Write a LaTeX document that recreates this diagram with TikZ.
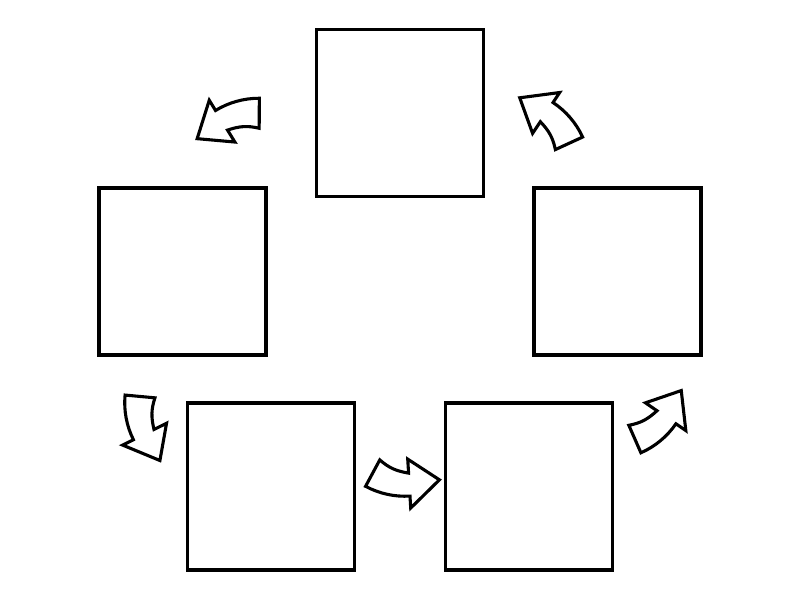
\documentclass[tikz,border=0pt]{standalone}
\usepackage{tikz}
\def\cyclearrow{\tikz[x=0.25mm,y=0.25mm]{
	\draw[line width=2.2pt,fill=white] (241.7:83) arc[start angle=241.7,end angle=273.5,radius=83]--(273.5:95)--(297.4:75)--(273.5:46)--(273.5:60) to[out=170.5,in=318.7] (241.7:53)--cycle;}
	}

\begin{document}
\begin{tikzpicture}[x=0.25mm,y=0.25mm,
	panel/.style={draw,line width=2.2pt,minimum size=41.75mm,inner sep=0pt},
	turn/.style={inner sep=0pt}]
	\useasboundingbox (0,0) rectangle (800,600);
	% boxes
	\node[panel] (top) at (400,487) {};
	\node[panel] (left) at (182.5,328.5) {};
	\node[panel] (right) at (617.5,328.5) {};
	\node[panel] (botleft) at (271,113.5) {};
	\node[panel] (botright) at (529,113.5) {};
	% arrows
	\node[turn,rotate=208] (arrTL) at (228,482) {\cyclearrow};
	\node[turn,rotate=293] (arrL) at (142,172) {\cyclearrow};
	\node[turn,rotate=0] (arrB) at (402.5,116.4) {\cyclearrow};
	\node[turn,rotate=52] (arrR) at (661.5,178) {\cyclearrow};
	\node[turn,rotate=143] (arrTR) at (551.5,483) {\cyclearrow};
\end{tikzpicture}
\end{document}
